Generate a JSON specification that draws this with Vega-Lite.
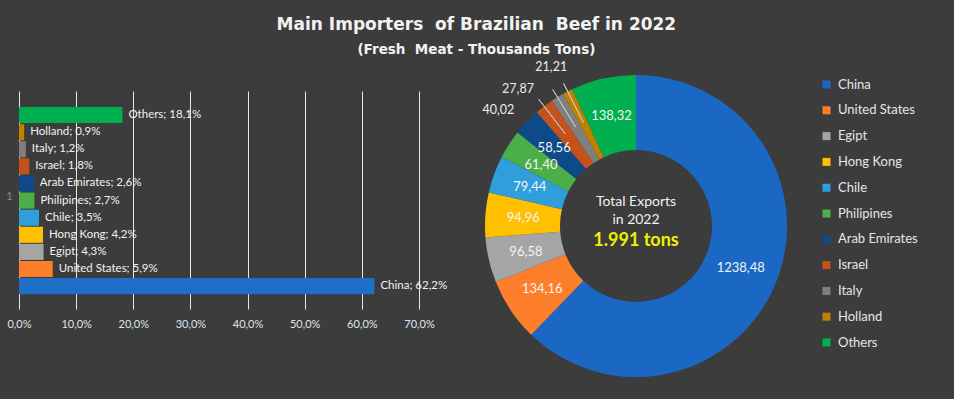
{
  "$schema": "https://vega.github.io/schema/vega-lite/v6.json",
  "background": "#3c3c3c",
  "padding": {"left": 5, "top": 15, "right": 36, "bottom": 26},
  "title": {
    "text": "Main Importers\u00a0 of Brazilian\u00a0 Beef in 2022",
    "subtitle": "(Fresh\u00a0 Meat - Thousands Tons)",
    "color": "#f2f2f2",
    "fontSize": 17,
    "font": "DejaVu Sans",
    "fontWeight": "bold",
    "subtitleColor": "#f2f2f2",
    "subtitleFont": "DejaVu Sans",
    "subtitleFontSize": 13.5,
    "subtitleFontWeight": "bold",
    "subtitlePadding": 9,
    "offset": 4,
    "dx": 13,
    "anchor": "middle"
  },
  "datasets": {
    "beef": [
      {"country": "China", "kt": 1238.48, "share": 0.622, "label": "China; 62,2%"},
      {"country": "United States", "kt": 134.16, "share": 0.059, "label": "United States; 5,9%"},
      {"country": "Egipt", "kt": 96.58, "share": 0.043, "label": "Egipt; 4,3%"},
      {"country": "Hong Kong", "kt": 94.96, "share": 0.042, "label": "Hong Kong; 4,2%"},
      {"country": "Chile", "kt": 79.44, "share": 0.035, "label": "Chile; 3,5%"},
      {"country": "Philipines", "kt": 61.40, "share": 0.027, "label": "Philipines; 2,7%"},
      {"country": "Arab Emirates", "kt": 58.56, "share": 0.026, "label": "Arab Emirates; 2,6%"},
      {"country": "Israel", "kt": 40.02, "share": 0.018, "label": "Israel; 1,8%"},
      {"country": "Italy", "kt": 27.87, "share": 0.012, "label": "Italy; 1,2%"},
      {"country": "Holland", "kt": 21.21, "share": 0.009, "label": "Holland; 0,9%"},
      {"country": "Others", "kt": 138.32, "share": 0.181, "label": "Others; 18,1%"}
    ]
  },
  "spacing": 34,
  "resolve": {"scale": {"color": "independent"}, "legend": {"color": "independent"}},
  "hconcat": [
    {
      "bounds": "flush",
      "spacing": 15,
      "vconcat": [
        {
          "width": 400,
          "height": 1,
          "data": {"values": []},
          "mark": {"type": "point", "opacity": 0},
          "encoding": {}
        },
        {
          "width": 400,
          "height": 210,
          "data": {"name": "beef"},
          "encoding": {
            "y": {
              "field": "country",
              "type": "nominal",
              "sort": ["Others", "Holland", "Italy", "Israel", "Arab Emirates", "Philipines", "Chile", "Hong Kong", "Egipt", "United States", "China"],
              "scale": {"paddingInner": 0.06, "paddingOuter": 0.67, "align": 0.7},
              "axis": {
                "title": "1",
                "labels": false,
                "ticks": false,
                "domain": false,
                "grid": false,
                "titleAngle": 0,
                "titleColor": "#8c8c8c",
                "titleFontWeight": "normal",
                "titleFontSize": 11,
                "titleBaseline": "middle",
                "titlePadding": 10
              }
            },
            "x": {
              "field": "share",
              "type": "quantitative",
              "scale": {"domain": [0, 0.7], "nice": false},
              "axis": {
                "title": null,
                "format": ".1%",
                "values": [0, 0.1, 0.2, 0.3, 0.4, 0.5, 0.6, 0.7],
                "grid": true,
                "gridColor": "#e8e8e8",
                "gridOpacity": 1,
                "gridWidth": 1,
                "domain": false,
                "ticks": true,
                "tickColor": "#e8e8e8",
                "tickSize": 8,
                "labelColor": "#dfe6ee",
                "labelFontSize": 11,
                "labelPadding": 9,
                "labelFlush": false
              }
            }
          },
          "layer": [
            {
              "mark": {"type": "bar"},
              "encoding": {
                "color": {
                  "field": "country",
                  "type": "nominal",
                  "legend": null,
                  "scale": {
                    "domain": ["China", "United States", "Egipt", "Hong Kong", "Chile", "Philipines", "Arab Emirates", "Israel", "Italy", "Holland", "Others"],
                    "range": ["#1f6fc6", "#fd7f2c", "#a5a5a5", "#ffc000", "#2e9fdb", "#4cae48", "#0e4a8a", "#c4521a", "#7f7f7f", "#c08000", "#00b050"]
                  }
                }
              }
            },
            {
              "mark": {"type": "text", "align": "left", "baseline": "middle", "dx": 6, "fontSize": 11.5, "color": "#f2f2f2"},
              "encoding": {"text": {"field": "label", "type": "nominal"}}
            }
          ]
        }
      ]
    },
    {
      "width": 302,
      "height": 302,
      "layer": [
        {
          "data": {"name": "beef"},
          "transform": [
            {"window": [{"op": "row_number", "as": "rank"}]},
            {"stack": "kt", "groupby": [], "sort": [{"field": "rank", "order": "ascending"}], "as": ["k0", "k1"]}
          ],
          "layer": [
            {
              "mark": {"type": "arc", "radius": 151, "radius2": 76},
              "encoding": {
                "theta": {"field": "k0", "type": "quantitative", "scale": {"nice": false, "zero": true}},
                "theta2": {"field": "k1"},
                "color": {
                  "field": "country",
                  "type": "nominal",
                  "scale": {
                    "domain": ["China", "United States", "Egipt", "Hong Kong", "Chile", "Philipines", "Arab Emirates", "Israel", "Italy", "Holland", "Others"],
                    "range": ["#1b68c4", "#fd7f2c", "#a5a5a5", "#ffc000", "#2e9fdb", "#4cae48", "#0e4a8a", "#c4521a", "#7f7f7f", "#c08000", "#00b050"]
                  },
                  "legend": {
                    "title": null,
                    "orient": "right",
                    "offset": 30,
                    "padding": 3,
                    "symbolType": "square",
                    "symbolSize": 64,
                    "symbolStrokeWidth": 0,
                    "labelColor": "#e6e6e6",
                    "labelFontSize": 13,
                    "labelOffset": 5,
                    "rowPadding": 11.8
                  }
                }
              }
            },
            {
              "transform": [{"filter": {"field": "country", "oneOf": ["Israel", "Italy", "Holland"]}}],
              "mark": {"type": "arc", "radius": 160, "radius2": 116, "padAngle": 1, "fill": "transparent", "stroke": "#c8c8c8", "strokeWidth": 1},
              "encoding": {
                "theta": {"field": "k0", "type": "quantitative", "scale": {"nice": false, "zero": true}},
                "theta2": {"field": "k1"}
              }
            },
            {
              "mark": {"type": "text", "radius": 113, "fontSize": 13, "color": "#f4f4f4", "baseline": "middle"},
              "encoding": {
                "theta": {"field": "kt", "type": "quantitative", "stack": true, "scale": {"nice": false, "zero": true}},
                "order": {"field": "rank", "type": "quantitative"},
                "detail": {"field": "country", "type": "nominal"},
                "text": {"field": "kt", "type": "quantitative", "format": ".2f"},
                "opacity": {"condition": {"test": "datum.kt > 50", "value": 1}, "value": 0}
              }
            },
            {
              "transform": [{"filter": {"field": "country", "equal": "Israel"}}],
              "mark": {"type": "text", "radius": 180, "thetaOffset": -0.1532, "fontSize": 12.5, "color": "#ececec", "baseline": "middle"},
              "encoding": {
                "theta": {"field": "k0", "type": "quantitative", "scale": {"nice": false, "zero": true}},
                "text": {"field": "kt", "type": "quantitative", "format": ".2f"}
              }
            },
            {
              "transform": [{"filter": {"field": "country", "equal": "Italy"}}],
              "mark": {"type": "text", "radius": 181, "thetaOffset": -0.119, "fontSize": 12.5, "color": "#ececec", "baseline": "middle"},
              "encoding": {
                "theta": {"field": "k0", "type": "quantitative", "scale": {"nice": false, "zero": true}},
                "text": {"field": "kt", "type": "quantitative", "format": ".2f"}
              }
            },
            {
              "transform": [{"filter": {"field": "country", "equal": "Holland"}}],
              "mark": {"type": "text", "radius": 180, "thetaOffset": 0.0131, "fontSize": 12.5, "color": "#ececec", "baseline": "middle"},
              "encoding": {
                "theta": {"field": "k0", "type": "quantitative", "scale": {"nice": false, "zero": true}},
                "text": {"field": "kt", "type": "quantitative", "format": ".2f"}
              }
            }
          ]
        },
        {
          "data": {"values": [{"line": "Total Exports"}]},
          "mark": {"type": "text", "fontSize": 14, "color": "#f2f2f2", "baseline": "middle", "dy": -24},
          "encoding": {"text": {"field": "line", "type": "nominal"}}
        },
        {
          "data": {"values": [{"line": "in 2022"}]},
          "mark": {"type": "text", "fontSize": 14, "color": "#f2f2f2", "baseline": "middle", "dy": -6},
          "encoding": {"text": {"field": "line", "type": "nominal"}}
        },
        {
          "data": {"values": [{"total": "1.991 tons"}]},
          "mark": {"type": "text", "fontSize": 18, "fontWeight": "bold", "color": "#eef200", "baseline": "middle", "dy": 15},
          "encoding": {"text": {"field": "total", "type": "nominal"}}
        }
      ]
    }
  ],
  "config": {
    "font": "Lato",
    "view": {"stroke": null},
    "locale": {"number": {"decimal": ",", "thousands": ".", "grouping": [3], "currency": ["", ""]}}
  }
}
